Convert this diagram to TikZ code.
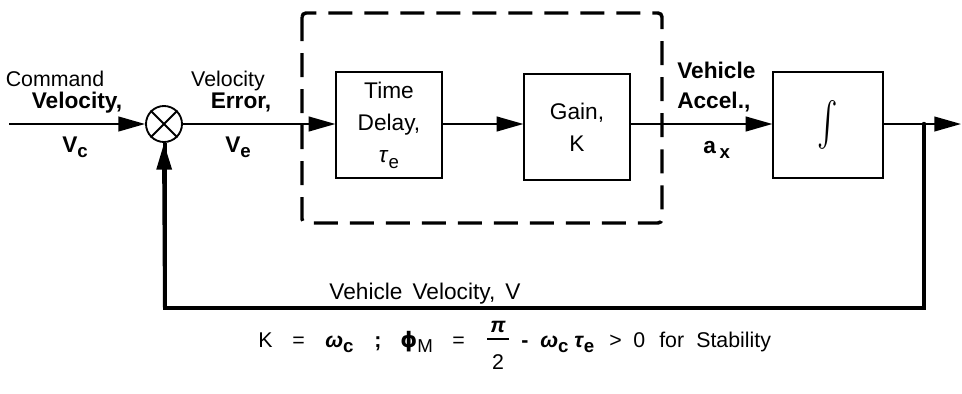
\documentclass[tikz,border=0pt]{standalone}
\usepackage{fontspec}
\setmainfont{Liberation Sans}
\newfontfamily\symfont{DejaVu Sans}
\usetikzlibrary{arrows.meta}
\newcommand{\lowsub}[1]{\raisebox{-0.5ex}{\fontsize{14}{14}\selectfont #1}}
\begin{document}
\begin{tikzpicture}[x=0.75pt,y=-0.75pt,
  lbl/.style={font=\fontsize{16}{18}\selectfont, inner sep=0pt},
  blbl/.style={font=\fontsize{17}{18}\selectfont\bfseries, inner sep=0pt},
  frm/.style={font=\fontsize{16}{18}\selectfont, inner sep=0pt, anchor=base west},
  blk/.style={draw, line width=1.4pt, minimum width=79pt, minimum height=79pt, align=center, inner sep=0pt, font=\fontsize{17}{24}\selectfont},
  sig/.style={line width=1.5pt, -{Triangle[length=20pt,width=11pt]}},
  fb/.style={line width=3pt},
  dbox/.style={line width=2.6pt, dash pattern=on 18pt off 9pt, rounded corners=3pt},
]
\useasboundingbox (0,0) rectangle (962,393);
% blocks
\node[circle, draw, line width=1.4pt, minimum size=27pt, inner sep=0pt] (sum) at (164,124) {};
\draw[line width=1.4pt] (sum.45) -- (sum.225) (sum.135) -- (sum.-45);
\node[blk] (td) at (389,125) {Time\\Delay,\\\textit{τ}\lowsub{e}};
\node[blk] (gain) at (577,127) {Gain,\\K};
\node[blk, minimum width=82pt] (int) at (828,125) {\raisebox{-2pt}{\scalebox{2.3}[3.3]{$\int$}}};
\coordinate (in) at (9,124);
\coordinate (jn) at (924,124);
\coordinate (out) at (961,124);
\coordinate (bl) at (165,308);
\coordinate (br) at (924,308);
% dashed box
\draw[dbox] (302,13) rectangle (662,223);
% signals
\draw[sig] (in) -- (sum.west);
\draw[sig] (sum.east) -- (sum.east -| td.west);
\draw[sig] (td.east |- sum.east) -- (sum.east -| gain.west);
\draw[sig] (sum.east -| gain.east) -- (sum.east -| int.west);
\draw[sig] (sum.east -| int.east) -- (out);
\fill (jn) circle (2.2);
\draw[fb] (jn) -- (br) -- (bl) -- (bl |- sum.south);
\draw[sig, line width=3pt] (bl) -- (sum.south);
% labels
\node[lbl, anchor=base] (l1) at (55,86) {Command};
\node[blbl, anchor=base] (l2) at (77,108) {Velocity,};
\node[blbl, anchor=base west] (l3) at (62,152) {V\lowsub{c}};
\node[lbl, anchor=base] (l4) at (228,86) {Velocity};
\node[blbl, anchor=base] (l5) at (241,108) {Error,};
\node[blbl, anchor=base west] (l6) at (225,152) {V\lowsub{e}};
\node[blbl, anchor=base west] (l7) at (677,78) {Vehicle};
\node[blbl, anchor=base west] (l8) at (677,108) {Accel.,};
\node[blbl, anchor=base west] (l9) at (703,153) {a\,\lowsub{x}};
\node[lbl, font=\fontsize{17}{18}\selectfont, anchor=base] (l10) at (425,299) {Vehicle\, Velocity,\, V};
% formula
\node[frm] (f1) at (258,347) {K};
\node[frm] (f2) at (292,347) {=};
\node[frm] (f3) at (325,347) {\textbf{\textit{ω}}\lowsub{\textbf{c}}};
\node[frm] (f4) at (374,347) {\textbf{;}};
\node[frm] (f5) at (400,347) {{\symfont\bfseries ϕ}\lowsub{M}};
\node[frm] (f6) at (452,347) {=};
\node[frm, anchor=base] (f7) at (498,332) {\textbf{\textit{π}}};
\node[frm, anchor=base] (f8) at (498,369) {2};
\draw[line width=1.2pt] (487,339) -- (509,339);
\node[frm] (f9) at (521,347) {\textbf{-}};
\node[frm] (f10) at (540,347) {\textbf{\textit{ω}}\lowsub{\textbf{c}}};
\node[frm] (f11) at (574,347) {\textbf{\textit{τ}}\lowsub{\textbf{e}}};
\node[frm] (f12) at (609,347) {>};
\node[frm] (f13) at (633,347) {0};
\node[frm] (f14) at (659,347) {for};
\node[frm] (f15) at (696,347) {Stability};
\end{tikzpicture}
\end{document}
